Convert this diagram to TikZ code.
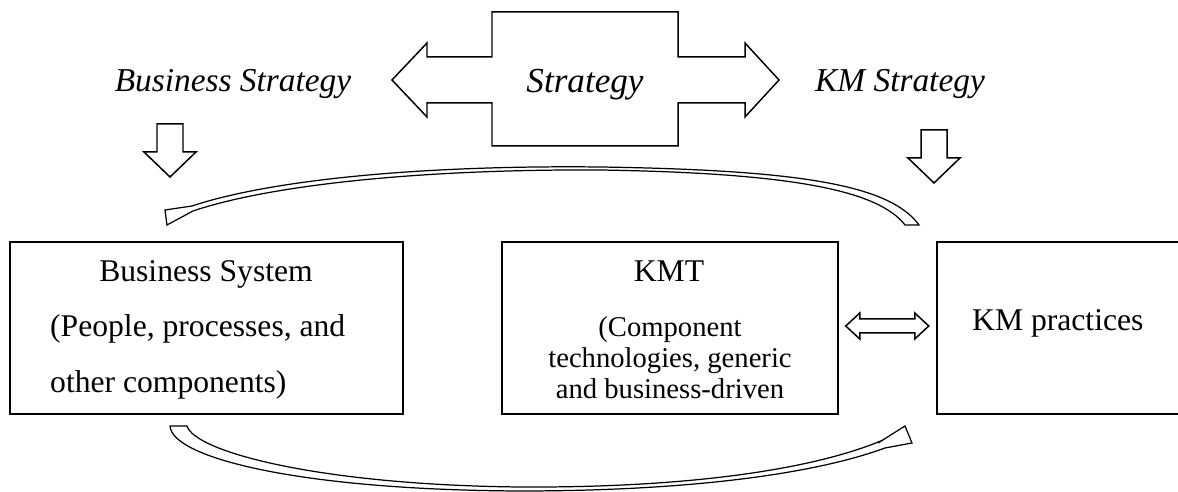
\documentclass[tikz,border=0pt]{standalone}
\usepackage{fontspec}
\setmainfont{Liberation Serif}
\usetikzlibrary{calc}

\begin{document}
\begin{tikzpicture}[x=0.02cm, y=-0.02cm,
    box/.style={draw, line width=0.9pt, inner sep=0pt, minimum height=3.44cm},
    txt/.style={font=\fontsize{18}{20}\selectfont, anchor=base},
    smalltxt/.style={font=\fontsize{16.3}{18}\selectfont, anchor=base},
    strattxt/.style={font=\fontsize{19}{22}\selectfont\itshape, anchor=base},
    hollow/.style={draw, fill=white, line width=0.85pt, line join=miter},
    curved/.style={draw, fill=white, line width=0.7pt}]
    \clip (0,0) rectangle (1178,492);

    \node[box, minimum width=7.86cm] (bs) at (206.5,328) {};
    \node[box, minimum width=6.72cm] (kmt) at (670,328) {};
    \node[box, minimum width=5.06cm] (kmp) at (1063.5,328) {};

    \node[txt] (bstitle) at (206,282) {Business System};
    \node[txt, anchor=base west] (bsline1) at (44,337) {(People, processes, and};
    \node[txt, anchor=base west] (bsline2) at (44,393) {other components)};
    \node[txt] (kmttitle) at (669,282) {KMT};
    \node[smalltxt] (kmtline0) at (670,337) {(Component};
    \node[smalltxt] (kmtline1) at (670,368) {technologies, generic};
    \node[smalltxt] (kmtline2) at (670,399) {and business-driven};
    \node[txt, anchor=base west] (kmptext) at (966,331) {KM practices};

    \draw[hollow] (392,80) -- (427,43) -- (427,57) -- (492,57) -- (492,12) -- (678,12)
        -- (678,57) -- (745,57) -- (745,43) -- (779,80) -- (745,117) -- (745,103)
        -- (678,103) -- (678,146) -- (492,146) -- (492,103) -- (427,103) -- (427,117) -- cycle;
    \node[strattxt, font=\fontsize{20}{24}\selectfont\itshape] (strat) at (585,93) {Strategy};
    \node[strattxt] (bsstrat) at (233,92) {Business Strategy};
    \node[strattxt] (kmstrat) at (900,92) {KM Strategy};

    \foreach \x/\y in {157/124, 921/130}
        \draw[hollow] (\x,\y) -- ++(26,0) -- ++(0,28) -- ++(13,0) -- ++(-26,25)
            -- ++(-26,-25) -- ++(13,0) -- cycle;

    \draw[hollow] ($(kmt.east)+(7,-2)$) -- ++(14,-13) -- ++(0,6) -- ++(55,0) -- ++(0,-6)
        -- ++(14,13) -- ++(-14,13) -- ++(0,-6) -- ++(-55,0) -- ++(0,6) -- cycle;

    \draw[curved] (919,225) .. controls (890,185) and (800,170) .. (600,167)
        .. controls (420,165) and (270,180) .. (192,206)
        -- (165,210) -- (167,225) -- (193,211)
        .. controls (270,185) and (420,169) .. (600,170)
        .. controls (790,173) and (878,190) .. (905,225) -- cycle;
    \draw[curved] (170,426) -- (187,426) .. controls (195,452) and (320,485) .. (520,487)
        .. controls (700,488) and (820,467) .. (883,440)
        -- (878,443) -- (905,426) -- (912,443) -- (885,448)
        .. controls (820,472) and (700,491) .. (520,491)
        .. controls (300,490) and (172,458) .. (170,426) -- cycle;
\end{tikzpicture}
\end{document}
